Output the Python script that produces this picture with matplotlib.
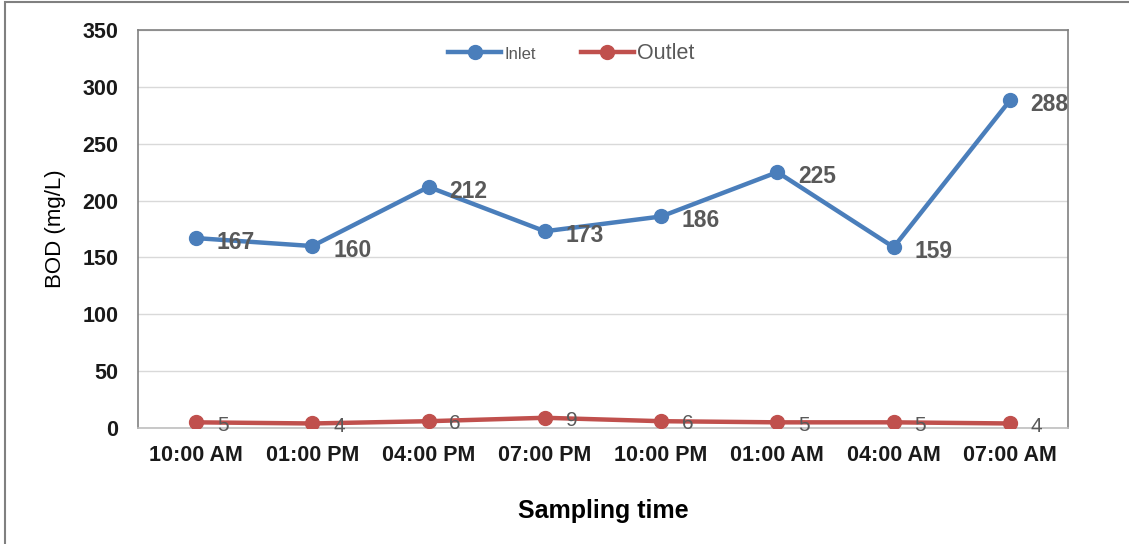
import matplotlib.pyplot as plt
from matplotlib.patches import Rectangle

plt.rcParams['font.family'] = ['Liberation Sans', 'DejaVu Sans']

# data
times = ['10:00 AM', '01:00 PM', '04:00 PM', '07:00 PM',
         '10:00 PM', '01:00 AM', '04:00 AM', '07:00 AM']
inlet = [167, 160, 212, 173, 186, 225, 159, 288]
outlet = [5, 4, 6, 9, 6, 5, 5, 4]

blue = '#4A7EBB'
red = '#C0504D'
grey_txt = '#595959'

fig = plt.figure(figsize=(11.29, 5.44), dpi=100)
ax = fig.add_axes([0.1222, 0.2132, 0.8238, 0.7317])

# outer frame of the figure
fig.patches.append(Rectangle((0.004, -0.01), 1.2, 1.0063, transform=fig.transFigure,
                             fill=False, edgecolor='#808080', linewidth=1.5))

x = range(len(times))
ax.plot(x, inlet, color=blue, lw=3.2, marker='o', ms=10, label='Inlet', zorder=3)
ax.plot(x, outlet, color=red, lw=3.2, marker='o', ms=10, label='Outlet', zorder=3)

for i, v in enumerate(inlet):
    ax.annotate(str(v), (i, v), xytext=(15, -3), textcoords='offset points',
                ha='left', va='center', fontsize=16.5, fontweight='bold', color=grey_txt)
for i, v in enumerate(outlet):
    ax.annotate(str(v), (i, v), xytext=(15, -2), textcoords='offset points',
                ha='left', va='center', fontsize=15, color=grey_txt)

ax.set_xlim(-0.5, len(times) - 0.5)
ax.set_ylim(0, 350)
ax.set_yticks(range(0, 351, 50))
ax.set_xticks(list(x))
ax.set_xticklabels(times)
ax.tick_params(axis='both', length=0, labelsize=15.5)
ax.tick_params(axis='y', pad=14)
ax.tick_params(axis='x', pad=12)
for lab in ax.get_xticklabels() + ax.get_yticklabels():
    lab.set_fontweight('bold')
    lab.set_color('#1a1a1a')

ax.grid(axis='y', color='#D9D9D9', lw=1)
ax.set_axisbelow(True)
for s in ax.spines.values():
    s.set_color('#808080')
    s.set_linewidth(1.2)
ax.spines['bottom'].set_color('#BFBFBF')

ax.set_ylabel('BOD (mg/L)', fontsize=16, labelpad=12)
ax.set_xlabel('Sampling time', fontsize=18, fontweight='bold', labelpad=24)

leg = ax.legend(loc='upper center', bbox_to_anchor=(0.466, 1.015), ncol=2, frameon=False,
                handlelength=2.45, columnspacing=2.1, handletextpad=0.15, fontsize=15.5)
texts = leg.get_texts()
texts[0].set_fontsize(12)
for t in texts:
    t.set_color(grey_txt)

fig.savefig('out.png', dpi=100)
